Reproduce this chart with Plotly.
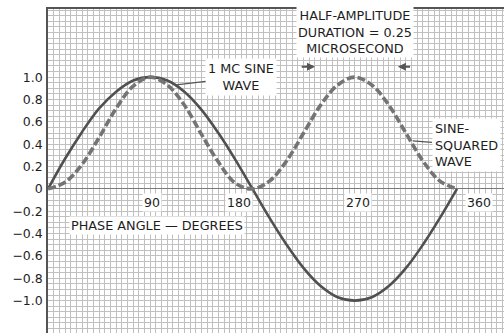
import plotly.graph_objects as go

# ---- data ----
phase_deg = [0, 15, 30, 45, 60, 75, 90, 105, 120, 135, 150, 165, 180,
             195, 210, 225, 240, 255, 270, 285, 300, 315, 330, 345, 360]
sine_wave = [0.0, 0.27, 0.51, 0.72, 0.87, 0.97, 1.0, 0.97, 0.87, 0.71, 0.5, 0.26, 0.0,
             -0.26, -0.5, -0.71, -0.87, -0.97, -1.0, -0.97, -0.87, -0.71, -0.5, -0.26, 0.0]
sine_squared = [0.0, 0.06, 0.22, 0.46, 0.72, 0.92, 1.0, 0.93, 0.75, 0.49, 0.24, 0.05, 0.0,
                0.07, 0.25, 0.5, 0.75, 0.93, 1.0, 0.93, 0.75, 0.5, 0.25, 0.07, 0.0]
y_tick_vals = [1.0, 0.8, 0.6, 0.4, 0.2, 0, -0.2, -0.4, -0.6, -0.8, -1.0]
y_tick_text = ["1.0", "0.8", "0.6", "0.4", "0.2", "0", "−0.2", "−0.4", "−0.6", "−0.8", "−1.0"]
x_tick_vals = [90, 180, 270, 360]
x_tick_text = ["90", "180", "270", "360"]

# ---- styles ----
FONT = "DejaVu Sans"
TXT = "#1e1e1e"
GRID = "#c0c0c0"
LBL = 12.8
x_label_shift = [2, -13, 3, 22]

fig = go.Figure()
fig.add_trace(go.Scatter(x=phase_deg, y=sine_wave, mode="lines",
                         line=dict(color="#505050", width=2.6, shape="spline"),
                         hoverinfo="skip", showlegend=False))
fig.add_trace(go.Scatter(x=phase_deg, y=sine_squared, mode="lines",
                         line=dict(color="#747474", width=3.6, shape="spline", dash="8px,3px"),
                         hoverinfo="skip", showlegend=False))

ann = []
for v, t, s in zip(x_tick_vals, x_tick_text, x_label_shift):
    ann.append(dict(x=v, y=-0.125, text=t, showarrow=False, xshift=s,
                    bgcolor="white", font=dict(family=FONT, size=12.5, color=TXT)))

ann.append(dict(x=113, y=0.93, ax=170, ay=1.0, axref="x", ayref="y",
                text="1 MC SINE<br>WAVE", showarrow=True, arrowhead=0, arrowwidth=1.2,
                arrowcolor="#555", bgcolor="white", borderpad=2,
                font=dict(family=FONT, size=LBL, color=TXT)))
ann.append(dict(x=270, y=1.405, text="HALF-AMPLITUDE<br>DURATION = 0.25<br>MICROSECOND",
                showarrow=False, bgcolor="white", borderpad=1,
                font=dict(family=FONT, size=LBL, color=TXT)))
ann.append(dict(x=235, y=1.094, ax=222, ay=1.094, axref="x", ayref="y", text="",
                showarrow=True, arrowhead=2, arrowsize=0.8, arrowwidth=2, arrowcolor="#555"))
ann.append(dict(x=308, y=1.094, ax=320, ay=1.094, axref="x", ayref="y", text="",
                showarrow=True, arrowhead=2, arrowsize=0.8, arrowwidth=2, arrowcolor="#555"))
ann.append(dict(x=321, y=0.43, ax=368, ay=0.39, axref="x", ayref="y",
                text="SINE-<br>SQUARED<br>WAVE", align="left", showarrow=True, arrowhead=0,
                arrowwidth=1.2, arrowcolor="#555", bgcolor="white", borderpad=2,
                font=dict(family=FONT, size=LBL, color=TXT)))
ann.append(dict(x=96, y=-0.326, text="PHASE ANGLE — DEGREES", showarrow=False,
                bgcolor="white", borderpad=1, font=dict(family=FONT, size=LBL, color=TXT)))

fig.update_layout(
    width=504, height=333,
    margin=dict(l=48, r=0, t=9, b=0),
    paper_bgcolor="white", plot_bgcolor="white",
    annotations=ann,
    hovermode=False,
    xaxis=dict(range=[0, 401.4], tick0=0, dtick=5, showgrid=True, gridcolor=GRID,
               gridwidth=1, showticklabels=False, ticks="", zeroline=False,
               showline=True, mirror=True, linecolor="#555", linewidth=1.5,
               fixedrange=True),
    yaxis=dict(range=[-1.29, 1.61], tickmode="array", tickvals=y_tick_vals,
               ticktext=y_tick_text, showgrid=True, gridcolor=GRID, gridwidth=1,
               minor=dict(tick0=0, dtick=0.05, showgrid=True, gridcolor=GRID, gridwidth=1),
               ticks="", ticklabelstandoff=1, zeroline=True, zerolinecolor="#7a7a7a",
               zerolinewidth=1.3, showline=True, linecolor="#555", linewidth=1.5,
               tickfont=dict(family=FONT, size=12.5, color=TXT), fixedrange=True),
)

fig.write_html("out.html", config={"displayModeBar": False},
               post_script="document.body.style.margin='0';document.body.style.overflow='hidden';")
